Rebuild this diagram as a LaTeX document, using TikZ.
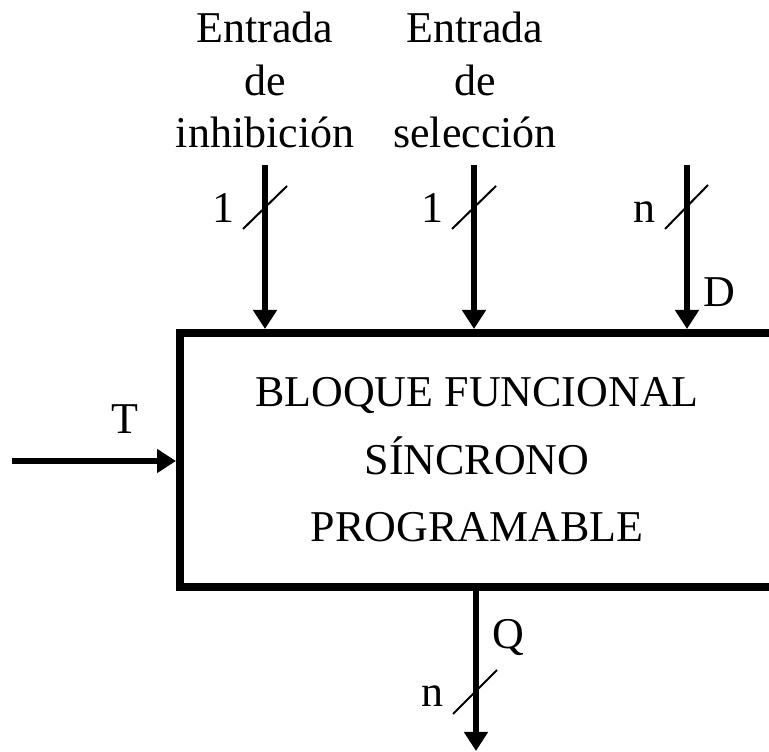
\documentclass[tikz,border=0pt]{standalone}
\usepackage{fontspec}
\setmainfont{Liberation Serif}
\usetikzlibrary{arrows.meta}
\begin{document}
\begin{tikzpicture}[x=1pt,y=1pt,
  blockbox/.style={draw, line width=8pt, minimum width=594pt, minimum height=254pt, inner sep=0pt, align=center, font=\fontsize{44}{67.5}\selectfont},
  sig/.style={line width=6pt, -{Triangle[width=23pt,length=19pt]}},
  slash/.style={line width=2pt},
  toplbl/.style={align=center, anchor=base, inner sep=0pt, font=\fontsize{44}{52.5}\selectfont},
  lbl/.style={anchor=base, inner sep=0pt, font=\fontsize{44}{52.5}\selectfont}]
\useasboundingbox (0,0) rectangle (769,752);
\node[blockbox] (box) at (477,292) {BLOQUE FUNCIONAL\\SÍNCRONO\\PROGRAMABLE};
% top inputs
\coordinate (i1) at (265,587);
\coordinate (i2) at (474,587);
\coordinate (i3) at (687,587);
\coordinate (tin) at (12,291);
\coordinate (qout) at (476,1);
\draw[sig] (i1) -- (i1 |- box.north);
\draw[sig] (i2) -- (i2 |- box.north);
\draw[sig] (i3) -- (i3 |- box.north);
\draw[sig] (tin) -- (tin -| box.west);
\draw[sig] (qout |- box.south) -- (qout);
% slashes
\coordinate (s1a) at (243,523); \coordinate (s1b) at (287,566);
\coordinate (s2a) at (452,523); \coordinate (s2b) at (496,566);
\coordinate (s3a) at (665,523); \coordinate (s3b) at (708,567);
\coordinate (s4a) at (453,38); \coordinate (s4b) at (497,82);
\draw[slash] (s1a) -- (s1b);
\draw[slash] (s2a) -- (s2b);
\draw[slash] (s3a) -- (s3b);
\draw[slash] (s4a) -- (s4b);
% labels
\node[toplbl] (t1) at (265,604) {Entrada\\de\\inhibición};
\node[toplbl] (t2) at (475,604) {Entrada\\de\\selección};
\node[lbl] (w1) at (223,529) {1};
\node[lbl] (w2) at (432,529) {1};
\node[lbl] (w3) at (644,529) {n};
\node[lbl] (d) at (719,445) {D};
\node[lbl] (t) at (125,318) {T};
\node[lbl] (q) at (508,103) {Q};
\node[lbl] (w4) at (432,45) {n};
\end{tikzpicture}
\end{document}
